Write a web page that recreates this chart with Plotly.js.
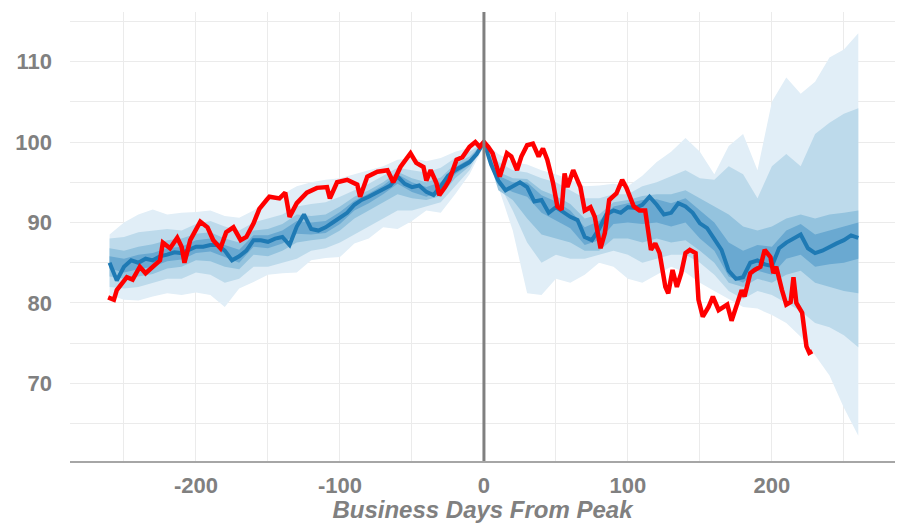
<!DOCTYPE html>
<html>
<head>
<meta charset="utf-8">
<script src="https://cdn.plot.ly/plotly-3.0.1.min.js"></script>
<style>html,body{margin:0;padding:0;background:#fff;}#chart{width:897px;height:523px;}</style>
</head>
<body>
<div id="chart"></div>
<script>
// ---- DATA ----
const bandDays = [-260,-250,-240,-230,-220,-210,-200,-190,-180,-170,-160,-150,-140,-130,-120,-110,-100,-90,-80,-70,-60,-50,-40,-30,-20,-10,0,10,20,30,40,50,60,70,80,90,100,110,120,130,140,150,160,170,180,190,200,210,220,230,240,250,260];

const outerUpper = [88.5,90.0,91.0,91.6,91.0,91.2,91.3,91.5,90.8,90.6,91.5,92.8,93.5,94.5,95.0,95.3,95.5,96.0,96.5,97.0,97.8,98.0,97.6,98.0,98.8,99.3,100,98.5,97.5,97.2,96.5,96.0,95.3,94.5,94.6,94.8,94.5,95.8,97.5,98.8,100.5,98.8,96.0,99.5,101.0,96.5,105.0,108.0,106.0,107.5,110.5,111.5,113.5];
const outerLower = [81.0,80.4,80.3,80.8,81.2,81.0,81.3,81.0,79.5,81.8,82.6,83.5,83.7,83.8,85.3,85.6,85.7,87.4,88.0,89.4,89.2,90.2,91.5,91.2,93.5,96.0,99.5,94.4,89.0,81.2,81.0,83.0,82.5,83.5,85.0,84.5,83.0,82.5,83.5,84.5,83.8,82.5,81.5,80.5,79.5,79.3,78.5,77.5,75.8,73.5,71.0,67.0,63.5];

const lightUpper = [88.0,88.2,88.8,89.0,89.2,89.0,89.8,90.2,89.5,89.0,90.0,90.5,91.0,92.0,92.3,92.5,93.2,94.0,94.8,95.8,96.8,96.5,96.2,96.8,98.0,98.8,100,97.5,96.5,96.2,95.5,95.0,94.0,93.0,93.0,93.5,93.5,94.5,95.0,95.8,96.5,95.5,95.3,97.0,96.0,93.0,97.0,98.5,97.0,101.0,102.4,103.5,104.2];
const lightLower = [82.0,81.8,82.0,82.5,83.0,83.0,83.8,83.5,82.5,83.0,84.5,84.5,85.0,85.5,86.5,86.8,87.5,88.5,89.5,90.5,91.5,91.5,92.0,92.5,94.5,96.5,99.8,95.0,91.5,87.5,85.0,86.0,85.5,85.5,86.0,86.5,86.0,85.0,85.5,86.0,86.0,85.0,83.5,81.5,80.5,81.5,81.0,80.0,79.0,77.5,77.0,76.0,74.5];

const midUpper = [86.8,86.5,87.0,87.3,87.8,88.0,88.6,88.8,88.0,87.5,89.0,89.2,89.8,91.0,90.8,91.0,92.0,93.2,94.0,95.0,96.3,95.5,95.0,95.6,97.3,98.2,100,96.3,95.5,95.4,94.0,93.3,92.3,90.5,91.0,92.5,92.8,93.3,93.5,93.5,94.0,93.0,92.0,91.0,89.5,89.0,89.5,90.5,91.0,90.5,91.0,91.2,91.5];
const midLower = [83.3,83.0,83.3,83.6,84.3,84.5,85.3,85.2,84.5,84.2,86.0,85.8,86.5,87.5,87.8,88.0,89.0,90.5,91.5,92.5,93.5,93.0,92.8,93.3,95.5,97.0,99.9,94.0,92.8,90.5,88.5,88.0,87.5,86.5,86.5,88.0,88.0,87.5,88.0,87.5,87.8,86.5,85.0,82.5,82.0,83.0,82.5,83.5,84.0,82.5,82.0,81.5,81.2];

const darkUpper = [85.8,85.5,86.0,86.2,86.8,87.0,87.8,88.0,87.2,86.6,88.4,88.4,89.0,90.2,90.0,90.2,91.3,92.7,93.6,94.6,96.0,95.0,94.4,95.0,96.9,97.9,100,95.8,95.0,95.0,93.4,92.6,91.5,89.4,90.2,92.0,92.4,92.8,92.9,92.4,93.0,91.5,90.0,87.5,86.5,87.2,87.0,89.0,89.8,88.5,89.0,89.5,90.0];
const darkLower = [84.3,83.8,84.2,84.5,85.2,85.4,86.2,86.4,85.7,85.0,87.0,86.8,87.4,88.6,88.5,88.7,89.8,91.5,92.4,93.5,94.8,93.8,93.2,93.9,96.0,97.2,99.9,94.6,93.8,93.2,91.2,90.2,89.3,87.2,87.8,89.8,90.0,89.8,90.0,89.5,90.0,88.0,86.5,83.3,82.5,84.0,83.5,85.5,86.0,84.5,84.8,85.0,85.5];

const medianDays = [-260,-255,-250,-245,-240,-235,-230,-225,-220,-215,-210,-205,-200,-195,-190,-185,-180,-175,-170,-165,-160,-155,-150,-145,-140,-135,-130,-125,-120,-115,-110,-105,-100,-95,-90,-85,-80,-75,-70,-65,-60,-55,-50,-45,-40,-35,-30,-25,-20,-15,-10,-5,0,5,10,15,20,25,30,35,40,45,50,55,60,65,70,75,80,85,90,95,100,105,110,115,120,125,130,135,140,145,150,155,160,165,170,175,180,185,190,195,200,205,210,215,220,225,230,235,240,245,250,255,260];
const medianValues = [85.0,82.8,84.5,85.3,85.0,85.5,85.3,85.8,86.0,86.3,86.2,86.6,87.0,87.0,87.2,87.2,86.5,85.3,85.8,86.5,87.8,87.8,87.6,88.0,88.2,87.2,89.5,91.0,89.2,89.0,89.4,90.0,90.6,91.2,92.2,92.8,93.2,93.7,94.2,94.6,95.7,94.8,94.4,94.6,93.8,93.4,94.5,95.8,96.5,97.0,97.5,98.5,100,97.2,95.2,94.0,94.5,95.0,94.4,92.6,92.8,91.2,91.9,91.3,90.7,90.3,88.2,87.8,89.2,91.0,91.5,91.2,91.9,91.8,92.2,93.2,92.2,91.0,91.2,92.4,92.0,91.2,89.9,89.3,88.0,86.6,84.0,83.0,83.2,85.0,85.3,84.8,84.6,86.8,87.5,88.0,88.5,86.8,86.2,86.5,87.0,87.4,87.8,88.4,88.1];

const currentDays = [-261,-257,-255,-248,-244,-239,-235,-230,-225,-223,-218,-213,-210,-208,-204,-197,-192,-188,-183,-179,-174,-169,-165,-160,-156,-151,-149,-142,-138,-135,-130,-123,-116,-109,-107,-102,-95,-88,-86,-81,-74,-67,-63,-58,-51,-47,-42,-40,-37,-33,-31,-27,-24,-19,-15,-10,-6,-3,0,3,6,11,16,19,23,26,30,34,38,41,44,48,51,54,56,58,62,67,70,74,77,81,84,87,92,96,99,104,108,112,114,116,119,122,126,128,131,134,137,140,143,147,149,152,156,159,163,169,172,176,179,181,185,188,192,195,199,201,203,207,210,213,215,217,221,224,226,228];
const currentValues = [80.7,80.4,81.6,83.2,82.9,84.5,83.7,84.5,85.3,87.5,86.8,88.1,87.0,85.0,87.8,90.1,89.4,87.8,86.8,88.8,89.4,87.8,88.2,89.9,91.7,92.8,93.2,93.0,93.7,90.7,92.4,93.7,94.3,94.4,93.0,95.0,95.3,94.7,93.2,95.7,96.3,96.5,95.0,96.9,98.6,97.4,96.9,95.2,96.5,94.9,93.4,94.4,95.3,97.8,98.1,99.4,100.0,99.4,100,99.4,98.6,95.7,98.6,98.2,96.5,98.2,99.6,99.8,98.2,99.2,97.8,94.9,92.0,91.6,96.1,94.4,96.5,94.4,91.5,91.9,90.7,86.8,88.7,92.8,93.6,95.3,94.3,92.0,91.5,91.5,88.7,86.6,87.4,86.2,82.0,81.2,84.1,82.0,83.7,86.2,86.6,86.2,80.4,78.3,79.5,80.8,79.1,79.8,77.8,80.2,81.6,80.8,83.7,84.1,84.5,86.6,85.7,83.7,84.5,81.6,79.8,80.1,83.2,80.0,78.8,74.6,73.8,74.0];

const yTickVals = [70,80,90,100,110];
const xTickVals = [-200,-100,0,100,200];

// ---- CHART ----
function band(lower, upper, color) {
  return [
    {x: bandDays, y: lower, type: 'scatter', mode: 'lines', line: {width: 0}, hoverinfo: 'skip', showlegend: false},
    {x: bandDays, y: upper, type: 'scatter', mode: 'lines', line: {width: 0}, fill: 'tonexty', fillcolor: color, hoverinfo: 'skip', showlegend: false}
  ];
}

const traces = [].concat(
  band(outerLower, outerUpper, '#e1eef7'),
  band(lightLower, lightUpper, '#bddaeb'),
  band(midLower, midUpper, '#94c3de'),
  band(darkLower, darkUpper, '#6aa9d1'),
  [
    {x: medianDays, y: medianValues, type: 'scatter', mode: 'lines', line: {color: '#1f7ab4', width: 4}, showlegend: false},
    {x: currentDays, y: currentValues, type: 'scatter', mode: 'lines', line: {color: '#ff0000', width: 4.5}, showlegend: false}
  ]
);

const tickFont = {family: 'Liberation Sans, Arial, sans-serif', size: 22, color: '#808080', weight: 'bold'};

const layout = {
  width: 897, height: 523,
  margin: {l: 70, r: 2, t: 12, b: 62},
  paper_bgcolor: '#ffffff', plot_bgcolor: '#ffffff',
  showlegend: false,
  hovermode: false,
  xaxis: {
    range: [-287.5, 285.5],
    tickvals: xTickVals,
    ticktext: xTickVals.map(String),
    tickfont: tickFont,
    ticks: '',
    ticklabelstandoff: 4,
    showgrid: true, gridcolor: '#ebebeb', gridwidth: 1,
    minor: {dtick: 50, tick0: 0, showgrid: true, gridcolor: '#ebebeb', gridwidth: 1},
    zeroline: false,
    showline: true, linecolor: '#a6a6a6', linewidth: 2,
    automargin: false,
    title: {text: '<b><i>Business Days From Peak</i></b>', font: {family: 'Liberation Sans, Arial, sans-serif', size: 24, color: '#808080'}, standoff: 5}
  },
  yaxis: {
    range: [60.37, 116.15],
    tickvals: yTickVals,
    ticktext: yTickVals.map(String),
    tickfont: tickFont,
    ticks: '',
    ticklabelstandoff: 17,
    showgrid: true, gridcolor: '#ebebeb', gridwidth: 1,
    minor: {dtick: 5, tick0: 0, showgrid: true, gridcolor: '#ebebeb', gridwidth: 1},
    zeroline: false,
    showline: false,
    automargin: false
  },
  shapes: [
    {type: 'line', xref: 'x', yref: 'paper', x0: 0, x1: 0, y0: 0, y1: 1, line: {color: '#808080', width: 3}, layer: 'above'}
  ]
};

Plotly.newPlot('chart', traces, layout, {displayModeBar: false, staticPlot: true});
</script>
</body>
</html>
